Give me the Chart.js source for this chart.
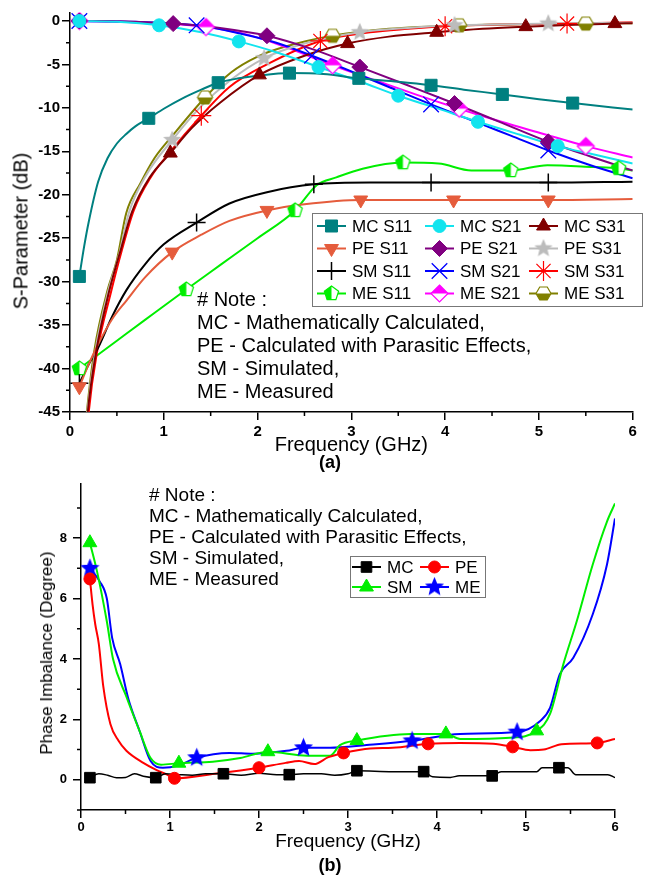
<!DOCTYPE html>
<html>
<head>
<meta charset="utf-8">
<script src="https://cdn.jsdelivr.net/npm/chart.js@4.4.1/dist/chart.umd.min.js"></script>
<style>
  body { margin: 0; background: #fff; width: 645px; height: 878px; position: relative; overflow: hidden;
         font-family: "Liberation Sans", Arial, sans-serif; color: #000; }
  canvas { position: absolute; left: 0; }
  #top { top: 0; }
  #bot { top: 470px; }
  .note { position: absolute; white-space: nowrap; }
  .ytitle { position: absolute; white-space: nowrap; transform: translate(-50%, -50%) rotate(-90deg); }
  .cap { position: absolute; font-weight: bold; font-size: 18px; transform: translate(-50%, -50%); }
</style>
</head>
<body>
<canvas id="top" width="645" height="470"></canvas>
<canvas id="bot" width="645" height="408"></canvas>

<div class="ytitle" style="left:21px; top:231px; font-size:20px;">S-Parameter (dB)</div>
<div class="ytitle" style="left:47px; top:653px; font-size:17px;">Phase Imbalance (Degree)</div>
<div class="cap" style="left:330px; top:462px;">(a)</div>
<div class="cap" style="left:330px; top:865px;">(b)</div>

<div class="note" style="left:197px; top:288px; font-size:20px; line-height:23px;">
  # Note :<br>MC - Mathematically Calculated,<br>PE - Calculated with Parasitic Effects,<br>SM - Simulated,<br>ME - Measured
</div>
<div class="note" style="left:149px; top:484px; font-size:19px; line-height:21px;">
  # Note :<br>MC - Mathematically Calculated,<br>PE - Calculated with Parasitic Effects,<br>SM - Simulated,<br>ME - Measured
</div>

<script>
// ---- data: (a) S-parameters, [GHz, dB] ----
const freqTicks = [0, 1, 2, 3, 4, 5, 6];
const sParamTicks = [0, -5, -10, -15, -20, -25, -30, -35, -40, -45];

const mcS11 = [[0.1,-29.4],[0.15,-26],[0.2,-23.1],[0.3,-18.5],[0.4,-15.8],[0.5,-14.1],[0.6,-13.0],[0.7,-12.1],[0.84,-11.2],[1.0,-10.1],[1.2,-8.9],[1.4,-7.9],[1.58,-7.1],[1.8,-6.6],[2.0,-6.3],[2.34,-6.0],[2.7,-6.1],[3.08,-6.6],[3.5,-7.0],[3.85,-7.4],[4.2,-7.9],[4.61,-8.45],[5.0,-9.0],[5.36,-9.45],[6.0,-10.2]];
const mcS11Marks = [[0.1,-29.4],[0.84,-11.2],[1.58,-7.1],[2.34,-6.0],[3.08,-6.6],[3.85,-7.4],[4.61,-8.45],[5.36,-9.45]];
const peS11 = [[0.1,-42.1],[0.2,-39.5],[0.3,-37.2],[0.45,-34.3],[0.6,-32.2],[0.8,-29.5],[1.09,-26.6],[1.4,-24.6],[1.7,-23.0],[2.1,-21.8],[2.5,-21.1],[3.1,-20.6],[4.09,-20.6],[5.1,-20.6],[6.0,-20.5]];
const peS11Marks = [[0.1,-42.1],[1.09,-26.6],[2.1,-21.8],[3.1,-20.6],[4.09,-20.6],[5.1,-20.6]];
const smS11 = [[0.1,-41.7],[0.2,-39.5],[0.3,-37.6],[0.45,-34.0],[0.6,-31.0],[0.8,-28.0],[1.0,-25.7],[1.35,-23.2],[1.7,-21.0],[2.1,-19.7],[2.6,-18.8],[3.2,-18.6],[3.85,-18.6],[5.1,-18.6],[6.0,-18.5]];
const smS11Marks = [[0.1,-41.7],[1.35,-23.2],[2.6,-18.8],[3.85,-18.6],[5.1,-18.6]];
const meS11 = [[0.1,-40],[0.5,-36.8],[0.8,-34.4],[1.24,-30.9],[1.6,-28.1],[2.0,-25.0],[2.4,-21.8],[2.63,-18.9],[2.84,-18],[3.12,-17],[3.55,-16.3],[3.93,-16.4],[4.28,-17.2],[4.7,-17.2],[5.09,-16.6],[5.58,-16.8],[5.85,-16.95],[6.0,-17.2]];
const meS11Marks = [[0.1,-40],[1.24,-30.9],[2.4,-21.8],[3.55,-16.3],[4.7,-17.2],[5.85,-16.95]];

const mcS21 = [[0.1,0],[0.5,-0.1],[0.95,-0.5],[1.4,-1.3],[1.8,-2.35],[2.2,-3.6],[2.65,-5.3],[3.1,-7.0],[3.5,-8.6],[3.9,-10.0],[4.35,-11.6],[4.8,-13.1],[5.2,-14.4],[5.6,-15.4],[6.0,-16.4]];
const mcS21Marks = [[0.1,0],[0.95,-0.5],[1.8,-2.35],[2.65,-5.3],[3.5,-8.6],[4.35,-11.6],[5.2,-14.4]];
const peS21 = [[0.1,0],[0.6,-0.05],[1.1,-0.3],[1.6,-0.8],[2.1,-1.7],[2.6,-3.3],[3.09,-5.3],[3.6,-7.4],[4.1,-9.5],[4.6,-11.7],[5.1,-13.9],[5.55,-15.6],[6.0,-17.2]];
const peS21Marks = [[0.1,0],[1.1,-0.3],[2.1,-1.7],[3.09,-5.3],[4.1,-9.5],[5.1,-13.9]];
const smS21 = [[0.1,0],[0.7,-0.1],[1.35,-0.5],[1.8,-1.4],[2.2,-2.5],[2.58,-4.0],[3.0,-5.8],[3.4,-7.6],[3.85,-9.6],[4.3,-11.5],[4.7,-13.2],[5.1,-14.9],[5.55,-16.6],[6.0,-18.1]];
const smS21Marks = [[0.1,0],[1.35,-0.5],[2.58,-4.0],[3.85,-9.6],[5.1,-14.9]];
const meS21 = [[0.1,0],[0.8,-0.2],[1.45,-0.7],[1.9,-1.6],[2.3,-3.0],[2.8,-5.1],[3.3,-7.0],[3.7,-8.5],[4.15,-10.1],[4.6,-11.6],[5.05,-13.0],[5.5,-14.4],[6.0,-15.7]];
const meS21Marks = [[0.1,0],[1.45,-0.7],[2.8,-5.1],[4.15,-10.1],[5.5,-14.4]];

const mcS31 = [[0.1,-58],[0.19,-45],[0.28,-38],[0.42,-31],[0.55,-26],[0.66,-22],[0.85,-18],[1.07,-15.2],[1.3,-12.3],[1.6,-9.4],[2.02,-6.2],[2.5,-4.0],[2.96,-2.6],[3.4,-1.8],[3.91,-1.3],[4.4,-0.9],[4.86,-0.65],[5.3,-0.45],[5.81,-0.3],[6.0,-0.25]];
const mcS31Marks = [[1.07,-15.2],[2.02,-6.2],[2.96,-2.6],[3.91,-1.3],[4.86,-0.65],[5.81,-0.3]];
const peS31 = [[0.1,-57],[0.185,-45],[0.27,-38],[0.41,-31],[0.52,-27],[0.63,-22],[0.82,-17.6],[1.09,-13.7],[1.4,-9.8],[1.7,-6.9],[2.07,-4.3],[2.5,-2.6],[3.09,-1.3],[3.6,-0.8],[4.1,-0.5],[5.1,-0.3],[6.0,-0.2]];
const peS31Marks = [[1.09,-13.7],[2.07,-4.3],[3.09,-1.3],[4.1,-0.5],[5.1,-0.3]];
const smS31 = [[0.1,-60],[0.2,-45],[0.29,-38],[0.43,-31.5],[0.55,-26.5],[0.68,-21.8],[0.86,-18],[1.05,-15.3],[1.4,-10.9],[1.7,-7.6],[2.1,-5.0],[2.67,-2.3],[3.2,-1.3],[3.6,-0.9],[4.0,-0.6],[4.6,-0.4],[5.3,-0.3],[6.0,-0.15]];
const smS31Marks = [[1.4,-10.9],[2.67,-2.3],[4.0,-0.6],[5.3,-0.3]];
const meS31 = [[0.1,-55],[0.18,-45],[0.26,-37.9],[0.4,-31],[0.5,-27.5],[0.6,-22.1],[0.75,-18.7],[0.9,-15.8],[1.1,-13.1],[1.44,-8.8],[1.72,-5.9],[2.0,-4.1],[2.28,-3.0],[2.8,-1.7],[3.4,-0.9],[4.15,-0.5],[5.5,-0.3],[6.0,-0.25]];
const meS31Marks = [[1.44,-8.8],[2.8,-1.7],[4.15,-0.5],[5.5,-0.3]];

// ---- data: (b) phase imbalance, [GHz, degree] ----
const phaseTicks = [0, 2, 4, 6, 8];
const mcPhase = [[0.1,0.07],[0.2,0.2],[0.3,0.15],[0.4,0.07],[0.5,0.08],[0.6,0.2],[0.7,0.12],[0.84,0.07],[0.95,0.2],[1.1,0.17],[1.25,0.15],[1.4,0.2],[1.6,0.2],[1.8,0.15],[2.0,0.22],[2.2,0.17],[2.34,0.17],[2.5,0.2],[2.7,0.2],[2.85,0.15],[3.0,0.2],[3.1,0.3],[3.5,0.27],[3.85,0.27],[3.95,0.1],[4.15,0.08],[4.25,0.13],[4.62,0.13],[4.72,0.27],[5.12,0.27],[5.18,0.4],[5.47,0.4],[5.56,0.17],[5.92,0.17],[6.0,0.07]];
const mcPhaseMarks = [[0.1,0.07],[0.84,0.07],[1.6,0.2],[2.34,0.17],[3.1,0.3],[3.85,0.27],[4.62,0.13],[5.37,0.4]];
const pePhase = [[0.1,6.65],[0.13,5.8],[0.16,5.15],[0.2,4.5],[0.25,3.1],[0.33,1.85],[0.42,1.3],[0.51,0.96],[0.7,0.56],[0.85,0.32],[0.96,0.18],[1.05,0.05],[1.5,0.2],[2.0,0.4],[2.3,0.56],[2.45,0.62],[2.62,0.52],[2.78,0.75],[2.95,0.89],[3.25,1.04],[3.5,1.06],[3.9,1.19],[4.26,1.22],[4.63,1.19],[4.85,1.09],[5.05,0.98],[5.2,1.0],[5.4,1.18],[5.8,1.22],[6.0,1.35]];
const pePhaseMarks = [[0.1,6.65],[1.05,0.05],[2.0,0.4],[2.95,0.89],[3.9,1.19],[4.85,1.09],[5.8,1.22]];
const smPhase = [[0.1,7.85],[0.18,6.9],[0.29,5.25],[0.36,4.0],[0.51,2.75],[0.66,1.6],[0.78,0.73],[0.9,0.5],[1.1,0.55],[1.48,0.6],[1.79,0.72],[2.1,0.93],[2.54,0.8],[2.8,0.8],[2.91,1.15],[3.1,1.3],[3.7,1.52],[4.1,1.52],[4.26,1.35],[4.82,1.39],[5.12,1.62],[5.27,2.18],[5.42,3.83],[5.57,5.25],[5.75,7.13],[5.91,8.55],[6.0,9.15]];
const smPhaseMarks = [[0.1,7.85],[1.1,0.55],[2.1,0.93],[3.1,1.3],[4.1,1.52],[5.12,1.62]];
const mePhase = [[0.1,7.0],[0.21,6.57],[0.29,6.0],[0.35,4.7],[0.44,3.83],[0.53,2.7],[0.66,1.6],[0.78,0.63],[0.92,0.4],[1.08,0.46],[1.3,0.73],[1.67,0.89],[1.93,0.86],[2.31,0.96],[2.5,1.06],[2.8,1.06],[3.21,1.15],[3.72,1.29],[4.26,1.52],[4.9,1.58],[5.16,1.95],[5.27,2.38],[5.38,3.5],[5.53,4.03],[5.75,5.48],[5.91,7.13],[6.0,8.65]];
const mePhaseMarks = [[0.1,7.0],[1.3,0.73],[2.5,1.06],[3.72,1.29],[4.9,1.58]];

// Origin style markers that Chart.js has no built-in for (half filled, solid star)
function markerImage(kind, color, size, half) {
  const c = document.createElement('canvas');
  c.width = c.height = size + 4;
  const g = c.getContext('2d');
  const cx = c.width / 2, cy = c.height / 2, r = size / 2;
  let pts = [];
  if (kind === 'pentagon') for (let i = 0; i < 5; i++) pts.push(-90 + i * 72);
  if (kind === 'hexagon') for (let i = 0; i < 6; i++) pts.push(i * 60);
  if (kind === 'diamond') pts = [-90, 0, 90, 180];
  const path = () => {
    g.beginPath();
    if (kind === 'star') {
      for (let i = 0; i < 10; i++) {
        const a = (-90 + i * 36) * Math.PI / 180, rr = i % 2 ? r * 0.45 : r;
        g.lineTo(cx + rr * Math.cos(a), cy + rr * Math.sin(a));
      }
    } else {
      pts.forEach(d => { const a = d * Math.PI / 180; g.lineTo(cx + r * Math.cos(a), cy + r * Math.sin(a)); });
    }
    g.closePath();
  };
  path();
  g.fillStyle = half ? '#fff' : color;
  g.fill();
  if (half) {
    g.save(); path(); g.clip(); g.fillStyle = color;
    if (half === 'left') g.fillRect(0, 0, cx, c.height);
    if (half === 'top') g.fillRect(0, 0, c.width, cy);
    if (half === 'bottom') g.fillRect(0, cy, c.width, c.height);
    g.restore();
  }
  path();
  g.strokeStyle = color; g.lineWidth = 1.2; g.stroke();
  return c;
}

const topSeries = [
  { label: 'MC S11', color: '#008080', line: mcS11, marks: mcS11Marks, point: { style: 'rect', r: 8.5 } },
  { label: 'MC S21', color: '#12e4ee', line: mcS21, marks: mcS21Marks, point: { style: 'circle', r: 6.5 } },
  { label: 'MC S31', color: '#800000', line: mcS31, marks: mcS31Marks, point: { style: 'triangle', r: 8 } },
  { label: 'PE S11', color: '#e55c3c', line: peS11, marks: peS11Marks, point: { style: 'triangle', r: 8, rot: 180 } },
  { label: 'PE S21', color: '#800080', line: peS21, marks: peS21Marks, point: { style: 'rectRot', r: 8 } },
  { label: 'PE S31', color: '#bcbcbc', line: peS31, marks: peS31Marks, point: { style: markerImage('star', '#bcbcbc', 16) } },
  { label: 'SM S11', color: '#000000', line: smS11, marks: smS11Marks, point: { style: 'cross', r: 9, bw: 1.5 } },
  { label: 'SM S21', color: '#0000ff', line: smS21, marks: smS21Marks, point: { style: 'crossRot', r: 11, bw: 1.3 } },
  { label: 'SM S31', color: '#ff0000', line: smS31, marks: smS31Marks, point: { style: 'star', r: 10, bw: 1.2 } },
  { label: 'ME S11', color: '#00ee00', line: meS11, marks: meS11Marks, point: { style: markerImage('pentagon', '#00ee00', 15, 'left') } },
  { label: 'ME S21', color: '#ff00ff', line: meS21, marks: meS21Marks, point: { style: markerImage('diamond', '#ff00ff', 17, 'top') } },
  { label: 'ME S31', color: '#808000', line: meS31, marks: meS31Marks, point: { style: markerImage('hexagon', '#808000', 15, 'bottom') } }
];

const botSeries = [
  { label: 'MC', color: '#000000', line: mcPhase, marks: mcPhaseMarks, lw: 1.5, point: { style: 'rect', r: 7.5 } },
  { label: 'PE', color: '#ff0000', line: pePhase, marks: pePhaseMarks, point: { style: 'circle', r: 6 } },
  { label: 'SM', color: '#00ee00', line: smPhase, marks: smPhaseMarks, point: { style: 'triangle', r: 8 } },
  { label: 'ME', color: '#0000ff', line: mePhase, marks: mePhaseMarks, point: { style: markerImage('star', '#0000ff', 17) } }
];

const toXY = arr => arr.map(p => ({ x: p[0], y: p[1] }));

function buildDatasets(series) {
  // marker sets first so they are painted on top of the curves
  const marks = series.map(s => ({
    label: s.label + ' markers',
    data: toXY(s.marks),
    showLine: false,
    pointStyle: s.point.style,
    pointRadius: s.point.r || 7,
    pointHoverRadius: s.point.r || 7,
    pointRotation: s.point.rot || 0,
    pointBackgroundColor: s.color,
    pointBorderColor: s.color,
    pointBorderWidth: s.point.bw || 1
  }));
  const lines = series.map(s => ({
    label: s.label,
    data: toXY(s.line),
    borderColor: s.color,
    borderWidth: s.lw || 2,
    pointRadius: 0,
    cubicInterpolationMode: 'monotone',
    fill: false
  }));
  return marks.concat(lines);
}

function drawMarker(ctx, s, x, y) {
  const p = s.point;
  if (typeof p.style !== 'string') {
    ctx.drawImage(p.style, x - p.style.width / 2, y - p.style.height / 2);
    return;
  }
  ctx.fillStyle = s.color;
  ctx.strokeStyle = s.color;
  ctx.lineWidth = p.bw || 1;
  Chart.helpers.drawPoint(ctx, { pointStyle: p.style, radius: p.r, rotation: p.rot || 0, borderWidth: p.bw || 1 }, x, y);
}

// boxed legend laid out in fixed columns like the Origin one
const boxLegend = {
  id: 'boxLegend',
  afterDraw(chart, args, o) {
    const ctx = chart.ctx;
    ctx.save();
    ctx.fillStyle = '#fff';
    ctx.fillRect(o.box[0], o.box[1], o.box[2], o.box[3]);
    ctx.strokeStyle = '#777';
    ctx.lineWidth = 1;
    ctx.strokeRect(o.box[0] + 0.5, o.box[1] + 0.5, o.box[2], o.box[3]);
    o.series.forEach((s, i) => {
      const col = i % o.colX.length, row = Math.floor(i / o.colX.length);
      const x0 = o.colX[col], y = o.rowY[row];
      ctx.strokeStyle = s.color;
      ctx.lineWidth = 2;
      ctx.beginPath(); ctx.moveTo(x0, y); ctx.lineTo(x0 + o.lineLen, y); ctx.stroke();
      drawMarker(ctx, s, x0 + o.lineLen / 2, y);
      ctx.fillStyle = '#000';
      ctx.font = o.font;
      ctx.textBaseline = 'middle';
      ctx.textAlign = 'left';
      ctx.fillText(s.label, x0 + o.lineLen + 6, y + 1);
    });
    ctx.restore();
  }
};

// short minor ticks between the labelled ones
const minorTicks = {
  id: 'minorTicks',
  afterDraw(chart, args, o) {
    const { ctx, chartArea: a, scales: { x, y } } = chart;
    ctx.save();
    ctx.strokeStyle = '#000';
    ctx.lineWidth = 1.5;
    ctx.beginPath();
    for (let k = Math.ceil((x.min / o.x - 1) / 2); (2 * k + 1) * o.x <= x.max + 1e-9; k++) {
      const px = x.getPixelForValue((2 * k + 1) * o.x);
      ctx.moveTo(px, a.bottom); ctx.lineTo(px, a.bottom + o.len);
    }
    for (let k = Math.ceil((y.min / o.y - 1) / 2); (2 * k + 1) * o.y <= y.max + 1e-9; k++) {
      const py = y.getPixelForValue((2 * k + 1) * o.y);
      ctx.moveTo(a.left, py); ctx.lineTo(a.left - o.len, py);
    }
    ctx.stroke();
    ctx.restore();
  }
};

function axis(opts) {
  return {
    type: 'linear',
    min: opts.min,
    max: opts.max,
    afterBuildTicks: s => { s.ticks = opts.ticks.map(v => ({ value: v })); },
    afterFit: opts.fit,
    grid: { display: true, drawOnChartArea: false, drawTicks: true, tickLength: 8, color: '#000', lineWidth: 1.5 },
    border: { display: true, color: '#000', width: 1.5 },
    ticks: { color: '#000', padding: opts.pad, font: { family: 'Liberation Sans', weight: 'bold', size: opts.tickSize }, maxRotation: 0, autoSkip: false },
    title: opts.title ? { display: true, text: opts.title, color: '#000', padding: 0,
                          font: { family: 'Liberation Sans', size: opts.titleSize, lineHeight: 1.2 } } : { display: false }
  };
}

Chart.defaults.font.family = 'Liberation Sans';

new Chart(document.getElementById('top'), {
  type: 'line',
  data: { datasets: buildDatasets(topSeries) },
  options: {
    responsive: false,
    animation: false,
    events: [],
    layout: { padding: { top: 12, right: 5, bottom: 13, left: 0 } },
    scales: {
      x: axis({ min: 0, max: 6, ticks: freqTicks, pad: 3, tickSize: 15, title: 'Frequency (GHz)', titleSize: 20,
                fit: s => { s.height = 45; } }),
      y: axis({ min: -45, max: 1, ticks: sParamTicks, pad: 2, tickSize: 15,
                fit: s => { s.width = 70; } })
    },
    plugins: {
      legend: { display: false },
      tooltip: { enabled: false },
      minorTicks: { x: 0.5, y: 2.5, len: 4 },
      boxLegend: {
        series: topSeries,
        box: [312, 213, 330, 93],
        colX: [317, 425, 529],
        lineLen: 29,
        rowY: [226, 248.5, 271, 293.5],
        font: '17px "Liberation Sans"'
      }
    }
  },
  plugins: [minorTicks, boxLegend]
});

new Chart(document.getElementById('bot'), {
  type: 'line',
  data: { datasets: buildDatasets(botSeries) },
  options: {
    responsive: false,
    animation: false,
    events: [],
    layout: { padding: { top: 13, right: 30, bottom: 25, left: 0 } },
    scales: {
      x: axis({ min: 0, max: 6, ticks: freqTicks, pad: 2, tickSize: 13, title: 'Frequency (GHz)', titleSize: 19,
                fit: s => { s.height = 43; } }),
      y: axis({ min: -1, max: 9.8, ticks: phaseTicks, pad: 6, tickSize: 13,
                fit: s => { s.width = 81; } })
    },
    plugins: {
      legend: { display: false },
      tooltip: { enabled: false },
      minorTicks: { x: 0.5, y: 1, len: 4 },
      boxLegend: {
        series: botSeries,
        box: [350, 86, 135, 41],
        colX: [352, 420],
        lineLen: 29,
        rowY: [97, 117],
        font: '17px "Liberation Sans"'
      }
    }
  },
  plugins: [minorTicks, boxLegend]
});
</script>
</body>
</html>
